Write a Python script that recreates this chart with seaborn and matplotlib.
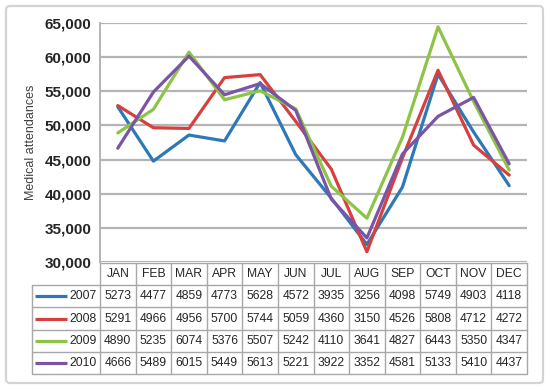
import matplotlib
matplotlib.use("Agg")
import matplotlib.pyplot as plt
from matplotlib.patches import FancyBboxPatch
import seaborn as sns
import pandas as pd

months = ["JAN", "FEB", "MAR", "APR", "MAY", "JUN", "JUL", "AUG", "SEP", "OCT", "NOV", "DEC"]
years = ["2007", "2008", "2009", "2010"]
# table values as printed (x10 = attendances)
v2007 = [5273, 4477, 4859, 4773, 5628, 4572, 3935, 3256, 4098, 5749, 4903, 4118]
v2008 = [5291, 4966, 4956, 5700, 5744, 5059, 4360, 3150, 4526, 5808, 4712, 4272]
v2009 = [4890, 5235, 6074, 5376, 5507, 5242, 4110, 3641, 4827, 6443, 5350, 4347]
v2010 = [4666, 5489, 6015, 5449, 5613, 5221, 3922, 3352, 4581, 5133, 5410, 4437]
colors = ["#2f78b8", "#d6403f", "#8cc546", "#7b55a5"]

series = [v2007, v2008, v2009, v2010]
rows = []
for yr, vals in zip(years, series):
    for i, v in enumerate(vals):
        rows.append({"year": yr, "pos": i, "value": v * 10})
df = pd.DataFrame(rows)

sns.set_style("white")
plt.rcParams["font.family"] = ["Liberation Sans", "DejaVu Sans"]

fig = plt.figure(figsize=(5.5, 3.9), dpi=100)
W, H = 550, 390

# overlay in pixel coords for frame and data table
ov = fig.add_axes([0, 0, 1, 1], zorder=5)
ov.set_xlim(0, W)
ov.set_ylim(H, 0)
ov.axis("off")
ov.patch.set_alpha(0)
ov.add_patch(FancyBboxPatch((6, 6), 537, 377, boxstyle="round,pad=0,rounding_size=4",
                            fill=False, edgecolor="#d4d4d4", linewidth=1.6))

ax_l, ax_r, ax_t, ax_b = 100, 527, 23, 262
ax = fig.add_axes([ax_l / W, 1 - ax_b / H, (ax_r - ax_l) / W, (ax_b - ax_t) / H])

sns.lineplot(data=df, x="pos", y="value", hue="year", palette=colors, linewidth=2.3,
             legend=False, ax=ax, zorder=3)

ax.set_xlim(-0.5, 11.5)
ax.set_ylim(30000, 65000)
ax.set_yticks(range(30000, 65001, 5000))
ax.set_yticklabels([f"{t:,}" for t in range(30000, 65001, 5000)], fontsize=11,
                   fontweight="bold", color="#262626")
ax.tick_params(axis="y", length=0, pad=6)
ax.set_xticks([])
ax.set_xlabel("")
ax.set_ylabel("Medical attendances", fontsize=9, color="#404040")
ax.yaxis.set_label_coords(-0.147, 0.5)
ax.grid(axis="y", color="#b4b4b4", linewidth=1.6)
for s in ["top", "right", "bottom"]:
    ax.spines[s].set_visible(False)
ax.spines["left"].set_color("#b4b4b4")
ax.spines["left"].set_linewidth(1.4)

# data table below the plot, columns aligned with the categories
tcol = "#a8a8a8"
tfs = 8.7
cw = (ax_r - ax_l) / 12
tab_l = 32
head_t, row_h = 263, 22.2
bottom = head_t + row_h * 5
ov.plot([ax_l, ax_r], [head_t, head_t], color=tcol, lw=1)
for k in range(5):
    y = head_t + row_h * (k + 1)
    ov.plot([tab_l, ax_r], [y, y], color=tcol, lw=1)
ov.plot([tab_l, tab_l], [head_t + row_h, bottom], color=tcol, lw=1)
for j in range(13):
    x = ax_l + cw * j
    ov.plot([x, x], [head_t, bottom], color=tcol, lw=1)
for j, m in enumerate(months):
    ov.text(ax_l + cw * (j + 0.5), head_t + row_h / 2, m, ha="center", va="center",
            fontsize=tfs, color="#262626")
for i, (yr, vals) in enumerate(zip(years, series)):
    yc = head_t + row_h * (i + 1.5)
    ov.plot([35, 67], [yc, yc], color=colors[i], lw=2.3, solid_capstyle="butt")
    ov.text(97, yc, yr, ha="right", va="center", fontsize=tfs, color="#262626")
    for j, v in enumerate(vals):
        ov.text(ax_l + cw * (j + 0.5), yc, str(v), ha="center", va="center",
                fontsize=tfs, color="#262626")

fig.savefig("out.png", dpi=100)
